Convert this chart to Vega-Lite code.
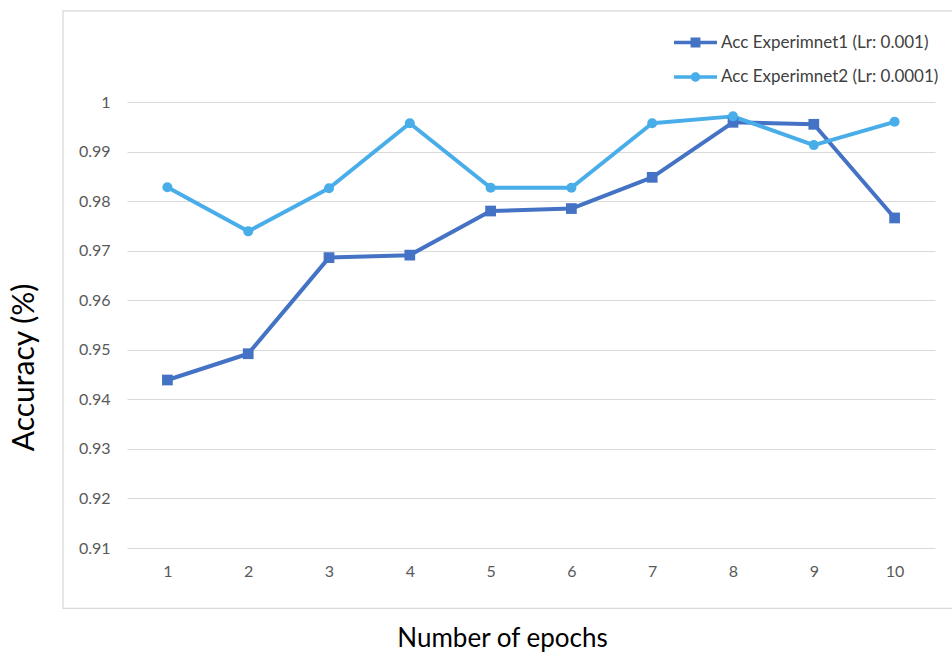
{
  "$schema": "https://vega.github.io/schema/vega-lite/v6.json",
  "width": 808,
  "height": 446,
  "autosize": {"type": "none"},
  "padding": {"left": 127, "top": 102, "right": 17, "bottom": 106},
  "background": "#ffffff",
  "config": {
    "view": {"stroke": null},
    "font": "Lato"
  },
  "datasets": {
    "acc": [
      {"epoch": 1, "series": "Acc Experimnet1 (Lr: 0.001)", "acc": 0.9439},
      {"epoch": 2, "series": "Acc Experimnet1 (Lr: 0.001)", "acc": 0.9492},
      {"epoch": 3, "series": "Acc Experimnet1 (Lr: 0.001)", "acc": 0.9686},
      {"epoch": 4, "series": "Acc Experimnet1 (Lr: 0.001)", "acc": 0.9691},
      {"epoch": 5, "series": "Acc Experimnet1 (Lr: 0.001)", "acc": 0.9780},
      {"epoch": 6, "series": "Acc Experimnet1 (Lr: 0.001)", "acc": 0.9785},
      {"epoch": 7, "series": "Acc Experimnet1 (Lr: 0.001)", "acc": 0.9848},
      {"epoch": 8, "series": "Acc Experimnet1 (Lr: 0.001)", "acc": 0.9959},
      {"epoch": 9, "series": "Acc Experimnet1 (Lr: 0.001)", "acc": 0.9955},
      {"epoch": 10, "series": "Acc Experimnet1 (Lr: 0.001)", "acc": 0.9766},
      {"epoch": 1, "series": "Acc Experimnet2 (Lr: 0.0001)", "acc": 0.9828},
      {"epoch": 2, "series": "Acc Experimnet2 (Lr: 0.0001)", "acc": 0.9739},
      {"epoch": 3, "series": "Acc Experimnet2 (Lr: 0.0001)", "acc": 0.9826},
      {"epoch": 4, "series": "Acc Experimnet2 (Lr: 0.0001)", "acc": 0.9957},
      {"epoch": 5, "series": "Acc Experimnet2 (Lr: 0.0001)", "acc": 0.9827},
      {"epoch": 6, "series": "Acc Experimnet2 (Lr: 0.0001)", "acc": 0.9827},
      {"epoch": 7, "series": "Acc Experimnet2 (Lr: 0.0001)", "acc": 0.9957},
      {"epoch": 8, "series": "Acc Experimnet2 (Lr: 0.0001)", "acc": 0.9971},
      {"epoch": 9, "series": "Acc Experimnet2 (Lr: 0.0001)", "acc": 0.9913},
      {"epoch": 10, "series": "Acc Experimnet2 (Lr: 0.0001)", "acc": 0.9960}
    ]
  },
  "resolve": {"scale": {"color": "independent", "shape": "independent"}},
  "layer": [
    {
      "data": {"name": "acc"},
      "mark": {"type": "line", "strokeWidth": 4, "strokeJoin": "round"},
      "encoding": {
        "x": {
          "field": "epoch", "type": "quantitative",
          "scale": {"domain": [0.5, 10.5], "nice": false, "zero": false},
          "axis": {
            "values": [1, 2, 3, 4, 5, 6, 7, 8, 9, 10],
            "format": "d",
            "grid": false, "domain": false, "ticks": false,
            "labelFont": "Lato", "labelFontSize": 16, "labelColor": "#595959",
            "labelPadding": 15,
            "title": "Number of epochs",
            "titleFont": "Lato", "titleFontSize": 26, "titleFontWeight": "normal", "titleColor": "#000000",
            "titleX": 375, "titleY": 98, "titleBaseline": "alphabetic", "titleAlign": "center", "titleAnchor": null
          }
        },
        "y": {
          "field": "acc", "type": "quantitative",
          "scale": {"domain": [0.91, 1.0], "nice": false, "zero": false},
          "axis": {
            "values": [0.91, 0.92, 0.93, 0.94, 0.95, 0.96, 0.97, 0.98, 0.99, 1.0],
            "format": ".2~f",
            "grid": true, "gridColor": "#d9d9d9", "gridWidth": 1.2,
            "domain": false, "ticks": false,
            "labelFont": "Lato", "labelFontSize": 16, "labelColor": "#595959",
            "labelPadding": 17,
            "title": "Accuracy (%)",
            "titleFont": "Lato", "titleFontSize": 30, "titleFontWeight": "normal", "titleColor": "#000000",
            "titleAngle": -90, "titleX": -94, "titleY": 265, "titleBaseline": "alphabetic", "titleAlign": "center", "titleAnchor": null
          }
        },
        "color": {
          "field": "series", "type": "nominal",
          "scale": {"domain": ["Acc Experimnet1 (Lr: 0.001)", "Acc Experimnet2 (Lr: 0.0001)"], "range": ["#4472C4", "#48ADE8"]},
          "legend": null
        }
      }
    },
    {
      "data": {"values": [{}]},
      "mark": {"type": "rect", "fill": null, "stroke": "#d9d9d9", "strokeWidth": 1.3, "clip": false},
      "encoding": {
        "x": {"datum": -0.292, "type": "quantitative"},
        "x2": {"datum": 10.8},
        "y": {"datum": 1.0184, "type": "quantitative"},
        "y2": {"datum": 0.8978}
      }
    },
    {
      "data": {"name": "acc"},
      "mark": {"type": "point", "filled": true, "opacity": 1, "strokeWidth": 0},
      "encoding": {
        "x": {"field": "epoch", "type": "quantitative"},
        "y": {"field": "acc", "type": "quantitative"},
        "color": {
          "field": "series", "type": "nominal",
          "scale": {"domain": ["Acc Experimnet1 (Lr: 0.001)", "Acc Experimnet2 (Lr: 0.0001)"], "range": ["#4472C4", "#48ADE8"]},
          "legend": null
        },
        "shape": {
          "field": "series", "type": "nominal",
          "scale": {"domain": ["Acc Experimnet1 (Lr: 0.001)", "Acc Experimnet2 (Lr: 0.0001)"], "range": ["square", "circle"]},
          "legend": null
        },
        "size": {
          "field": "series", "type": "nominal",
          "scale": {"domain": ["Acc Experimnet1 (Lr: 0.001)", "Acc Experimnet2 (Lr: 0.0001)"], "range": [115, 100]},
          "legend": null
        }
      }
    },
    {
      "data": {"name": "acc"},
      "mark": {"type": "point", "filled": true, "opacity": 0, "strokeWidth": 0},
      "encoding": {
        "x": {"field": "epoch", "type": "quantitative"},
        "y": {"field": "acc", "type": "quantitative"},
        "color": {
          "field": "series", "type": "nominal",
          "scale": {"domain": ["Acc Experimnet1 (Lr: 0.001)", "Acc Experimnet2 (Lr: 0.0001)"], "range": ["#4472C4", "#48ADE8"]},
          "legend": {
            "title": null, "orient": "none", "legendX": 547, "legendY": -81,
            "symbolSize": 1849, "symbolStrokeWidth": 0, "symbolOpacity": 1,
            "labelFont": "Lato", "labelFontSize": 17, "labelColor": "#404040", "labelOffset": 4,
            "rowPadding": 4.5, "labelLimit": 400,
            "encode": {"symbols": {"update": {"opacity": {"value": 1}}}}
          }
        },
        "shape": {
          "field": "series", "type": "nominal",
          "scale": {
            "domain": ["Acc Experimnet1 (Lr: 0.001)", "Acc Experimnet2 (Lr: 0.0001)"],
            "range": [
              "M-1,-0.08H1V0.08H-1Z M-0.23,-0.23H0.23V0.23H-0.23Z",
              "M-1,-0.08H1V0.08H-1Z M-0.22,0A0.22,0.22 0 1 1 0.22,0A0.22,0.22 0 1 1 -0.22,0Z"
            ]
          },
          "legend": {
            "title": null, "orient": "none", "legendX": 547, "legendY": -81,
            "symbolSize": 1849, "symbolStrokeWidth": 0, "symbolOpacity": 1,
            "labelFont": "Lato", "labelFontSize": 17, "labelColor": "#404040", "labelOffset": 4,
            "rowPadding": 4.5, "labelLimit": 400,
            "encode": {"symbols": {"update": {"opacity": {"value": 1}}}}
          }
        }
      }
    }
  ]
}
